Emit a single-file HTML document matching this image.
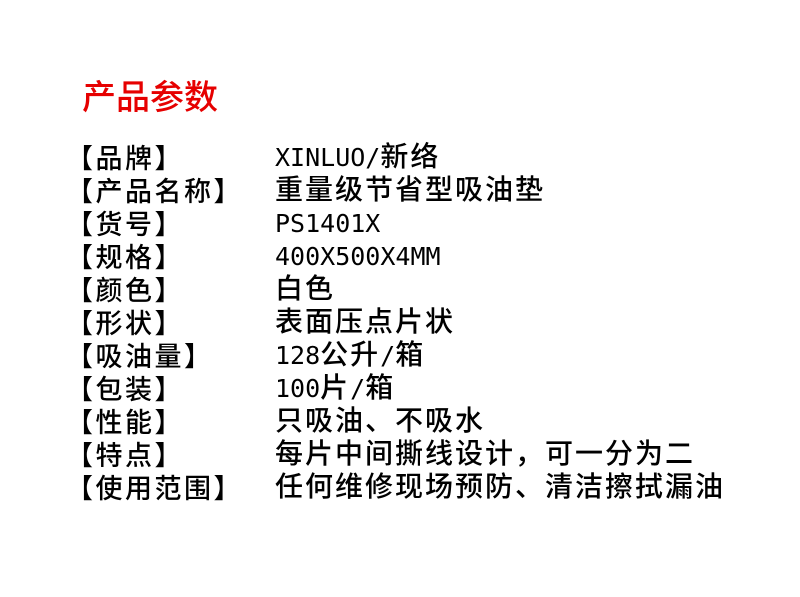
<!DOCTYPE html>
<html><head><meta charset="utf-8"><style>
html,body{margin:0;padding:0;background:#fff;}
body{width:800px;height:597px;position:relative;overflow:hidden;font-family:"Liberation Sans","Noto Sans CJK SC",sans-serif;color:#000;}
.t{position:absolute;left:82px;top:75px;font-size:34px;line-height:40px;color:#e60000;font-family:"Noto Sans CJK SC",sans-serif;font-weight:500;}
.r{position:absolute;height:34px;line-height:34px;white-space:nowrap;font-weight:500;}
.l{left:66px;font-size:27px;letter-spacing:2.5px;font-family:"Noto Sans CJK SC",sans-serif;}
.v{left:275px;font-size:28px;letter-spacing:2px;font-family:"DejaVu Sans Mono","Noto Sans CJK SC",monospace;}
.m{font-size:25px;letter-spacing:0;font-weight:normal;}
</style></head><body>
<div class="t">产品参数</div>
<div class="r l" style="top:140px">【品牌】</div><div class="r v" style="top:140px"><span class="m">XINLUO/</span>新络</div>
<div class="r l" style="top:173px">【产品名称】</div><div class="r v" style="top:173px">重量级节省型吸油垫</div>
<div class="r l" style="top:206px">【货号】</div><div class="r v" style="top:206px"><span class="m">PS1401X</span></div>
<div class="r l" style="top:239px">【规格】</div><div class="r v" style="top:239px"><span class="m">400X500X4MM</span></div>
<div class="r l" style="top:272px">【颜色】</div><div class="r v" style="top:272px">白色</div>
<div class="r l" style="top:305px">【形状】</div><div class="r v" style="top:305px">表面压点片状</div>
<div class="r l" style="top:338px">【吸油量】</div><div class="r v" style="top:338px"><span class="m">128</span>公升<span class="m">/</span>箱</div>
<div class="r l" style="top:371px">【包装】</div><div class="r v" style="top:371px"><span class="m">100</span>片<span class="m">/</span>箱</div>
<div class="r l" style="top:404px">【性能】</div><div class="r v" style="top:404px">只吸油、不吸水</div>
<div class="r l" style="top:437px">【特点】</div><div class="r v" style="top:437px">每片中间撕线设计，可一分为二</div>
<div class="r l" style="top:470px">【使用范围】</div><div class="r v" style="top:470px">任何维修现场预防、清洁擦拭漏油</div>
</body></html>
